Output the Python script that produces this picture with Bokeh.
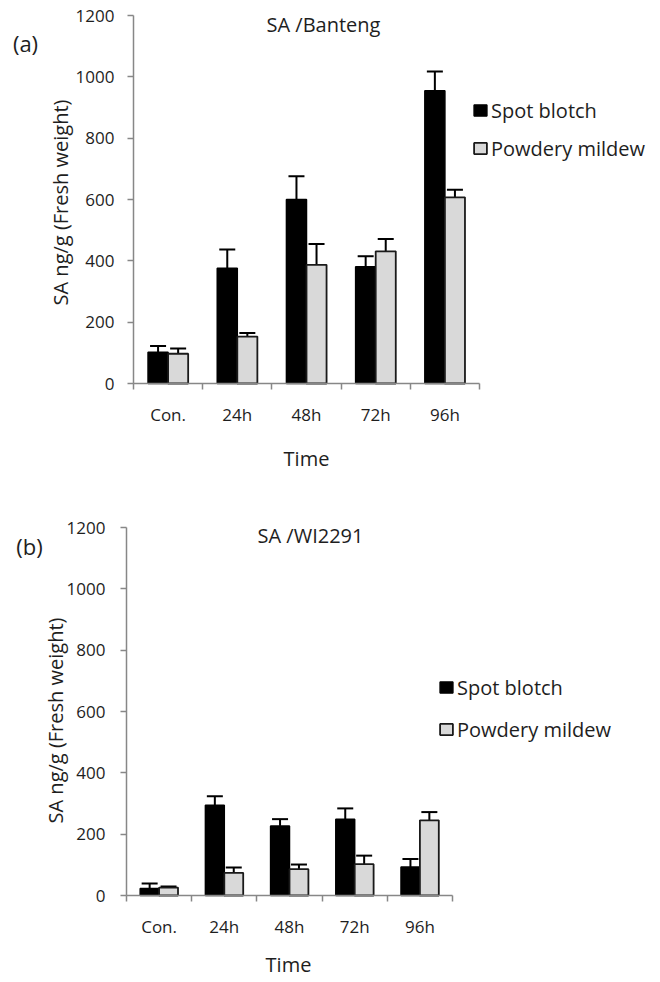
import numpy as np
from bokeh.plotting import figure
from bokeh.models import (ColumnDataSource, Whisker, TeeHead, Legend, LegendItem,
                          Label, FixedTicker, Range1d)
from bokeh.layouts import column
from bokeh.embed import file_html
from bokeh.resources import INLINE

# ---------------- data ----------------
categories = ["Con.", "24h", "48h", "72h", "96h"]
series_names = ["Spot blotch", "Powdery mildew"]
y_ticks = [0, 200, 400, 600, 800, 1000, 1200]

banteng_spot = [102, 376, 600, 381, 955]
banteng_spot_err = [20, 61, 76, 34, 62]
banteng_powdery = [97, 153, 387, 431, 607]
banteng_powdery_err = [17, 12, 68, 40, 25]

wi_spot = [23, 294, 227, 249, 93]
wi_spot_err = [16, 30, 22, 35, 26]
wi_powdery = [26, 74, 86, 102, 245]
wi_powdery_err = [3, 17, 15, 28, 27]

FONT = "Open Sans"
TXT = "#1e1e1e"
AXC = "#878787"
W = 660


def make_panel(spot, spot_err, pm, pm_err, title, tag, H, frame_px,
               title_pos, tag_pos, ylab_pos, xlab_pos, legend_glyph_x,
               legend_rows, ytick_standoff, xtick_standoff):
    # frame_px: pixel position of x=0, x=N, y=0 and y=1200 inside this figure
    x0px, xNpx, y0px, ytpx = frame_px
    n = len(categories)
    kx = (xNpx - x0px) / n
    ky = (y0px - ytpx) / y_ticks[-1]
    xr = Range1d(-x0px / kx, (W - x0px) / kx)
    yr = Range1d(-(H - y0px) / ky, y_ticks[-1] + ytpx / ky)

    p = figure(width=W, height=H, x_range=xr, y_range=yr, output_backend="svg",
               toolbar_location=None, min_border=0)
    p.min_border_left = p.min_border_right = p.min_border_top = p.min_border_bottom = 0
    p.outline_line_color = None
    p.xgrid.visible = False
    p.ygrid.visible = False
    p.background_fill_color = "white"
    p.border_fill_color = "white"

    xs = np.arange(n) + 0.5
    off, w = 0.145, 0.29

    r1 = p.vbar(x=xs - off, top=spot, width=w, fill_color="black",
                line_color="black", line_width=1.5)
    r2 = p.vbar(x=xs + off, top=pm, width=w, fill_color="#d9d9d9",
                line_color="#1a1a1a", line_width=1.8)

    for xx, vals, errs in ((xs - off, spot, spot_err), (xs + off, pm, pm_err)):
        v = np.array(vals, dtype=float)
        e = np.array(errs, dtype=float)
        src = ColumnDataSource(dict(base=xx, lower=v, upper=v + e))
        wk = Whisker(source=src, base="base", lower="lower", upper="upper",
                     line_color="black", line_width=2,
                     upper_head=TeeHead(size=16, line_color="black", line_width=2),
                     lower_head=None)
        p.add_layout(wk)

    # y axis (fixed at x = 0)
    ya = p.yaxis[0]
    ya.fixed_location = 0
    ya.bounds = (y_ticks[0], y_ticks[-1])
    ya.ticker = FixedTicker(ticks=y_ticks)
    ya.axis_line_color = AXC
    ya.axis_line_width = 1.5
    ya.major_tick_line_color = AXC
    ya.major_tick_line_width = 1.5
    ya.major_tick_in = 0
    ya.major_tick_out = 6
    ya.minor_tick_line_color = None
    ya.major_label_text_font = FONT
    ya.major_label_text_font_size = "17px"
    ya.major_label_text_color = TXT
    ya.major_label_standoff = ytick_standoff

    # x axis (fixed at y = 0)
    xa = p.xaxis[0]
    xa.fixed_location = 0
    xa.bounds = (0, n)
    xa.ticker = FixedTicker(ticks=list(xs), minor_ticks=list(range(n + 1)))
    xa.major_label_overrides = {float(x): c for x, c in zip(xs, categories)}
    xa.axis_line_color = AXC
    xa.axis_line_width = 1.5
    xa.major_tick_in = 0
    xa.major_tick_out = 0
    xa.major_tick_line_color = None
    xa.minor_tick_in = 0
    xa.minor_tick_out = 6
    xa.minor_tick_line_color = AXC
    xa.minor_tick_line_width = 1.5
    xa.major_label_text_font = FONT
    xa.major_label_text_font_size = "17px"
    xa.major_label_text_color = TXT
    xa.major_label_standoff = xtick_standoff

    # axis titles
    p.add_layout(Label(x=ylab_pos[0], y=H - ylab_pos[1], x_units="screen", y_units="screen",
                       text="SA ng/g (Fresh weight)", angle=np.pi / 2,
                       text_align="center", text_baseline="middle",
                       text_font=FONT, text_font_size="20px", text_color=TXT))
    p.add_layout(Label(x=xlab_pos[0], y=H - xlab_pos[1], x_units="screen", y_units="screen",
                       text="Time", text_align="center", text_baseline="middle",
                       text_font=FONT, text_font_size="20px", text_color=TXT))

    # legend
    item_h = 27
    pitch = legend_rows[1] - legend_rows[0]
    spacing = pitch - item_h
    top = legend_rows[0] - item_h / 2
    bottom = top + 2 * item_h + spacing
    legend = Legend(items=[LegendItem(label=series_names[0], renderers=[r1]),
                           LegendItem(label=series_names[1], renderers=[r2])],
                    location=(legend_glyph_x, H - bottom))
    legend.padding = 0
    legend.margin = 0
    legend.spacing = spacing
    legend.glyph_width = 16
    legend.glyph_height = 14
    legend.label_height = item_h
    legend.label_standoff = 3
    legend.label_text_font = FONT
    legend.label_text_font_size = "20px"
    legend.label_text_color = TXT
    legend.border_line_color = None
    legend.background_fill_alpha = 0
    p.add_layout(legend)

    # title and panel tag
    p.add_layout(Label(x=title_pos[0], y=H - title_pos[1], x_units="screen", y_units="screen",
                       text=title, text_align="center", text_baseline="middle",
                       text_font=FONT, text_font_size="20px", text_color=TXT))
    p.add_layout(Label(x=tag_pos[0], y=H - tag_pos[1], x_units="screen", y_units="screen",
                       text=tag, text_align="center", text_baseline="middle",
                       text_font=FONT, text_font_size="22px", text_color=TXT))
    return p


H1, H2 = 495, 487
pa = make_panel(banteng_spot, banteng_spot_err, banteng_powdery, banteng_powdery_err,
                "SA /Banteng", "(a)", H1, (133, 479, 383, 15),
                (323, 24), (25, 42), (60, 202), (306, 458), 472, (110, 148), 13, 13)
pb = make_panel(wi_spot, wi_spot_err, wi_powdery, wi_powdery_err,
                "SA /WI2291", "(b)", H2, (126, 452, 400, 32),
                (310, 40), (29, 50), (55, 225), (288, 469), 438, (192, 234), 15, 13)

layout = column(pa, pb, spacing=0)
open("out.html", "w").write(file_html(layout, INLINE))
